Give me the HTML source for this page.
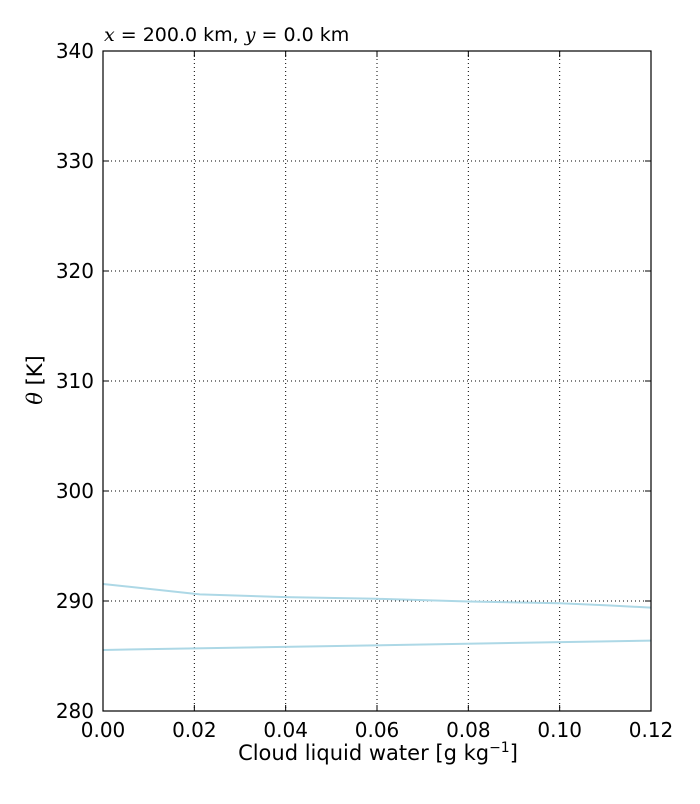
<!DOCTYPE html>
<html><head><meta charset="utf-8"><style>
body{margin:0;background:#fff;font-family:"DejaVu Sans","Liberation Sans",sans-serif;}
</style></head><body>
<svg id="chart" width="700" height="800" xmlns="http://www.w3.org/2000/svg" style="font-family:'DejaVu Sans',sans-serif"></svg>
<script>
const xTicks=[0,0.02,0.04,0.06,0.08,0.10,0.12];
const xTickLabels=["0.00","0.02","0.04","0.06","0.08","0.10","0.12"];
const yTicks=[280,290,300,310,320,330,340];
const upperX=[0,0.0212,0.04,0.06,0.08,0.10,0.1106,0.12];
const upperY=[291.55,290.6,290.35,290.2,289.95,289.8,289.6,289.4];
const lowerX=[0,0.12];
const lowerY=[285.55,286.4];
const L=103,R=651,T=51,B=711;
const sx=v=>L+(v-0)/(0.12)*(R-L);
const sy=v=>B-(v-280)/60*(B-T);
const svg=document.getElementById('chart');
const NS='http://www.w3.org/2000/svg';
function mk(tag,attrs,parent){const e=document.createElementNS(NS,tag);for(const k in attrs)e.setAttribute(k,attrs[k]);(parent||svg).appendChild(e);return e;}
xTicks.forEach((v,i)=>{
 const g=mk('line',{x1:sx(v),x2:sx(v),y1:T,y2:B,stroke:'#000','stroke-dasharray':'1,3','stroke-width':1});
 
 
 mk('line',{x1:sx(v),x2:sx(v),y1:B,y2:B-6,stroke:'#000'});
 mk('line',{x1:sx(v),x2:sx(v),y1:T,y2:T+6,stroke:'#000'});
 const t=mk('text',{x:sx(v),y:B+26,'text-anchor':'middle','font-size':20});
 t.textContent=xTickLabels[i];
 
 
});
yTicks.forEach(v=>{
 const g=mk('line',{x1:L,x2:R,y1:sy(v),y2:sy(v),stroke:'#000','stroke-dasharray':'1,3','stroke-width':1});
 
 
 mk('line',{x1:L,x2:L+6,y1:sy(v),y2:sy(v),stroke:'#000'});
 mk('line',{x1:R,x2:R-6,y1:sy(v),y2:sy(v),stroke:'#000'});
 const t=mk('text',{x:L-9,y:sy(v)+7,'text-anchor':'end','font-size':20});
 t.textContent=v;
 
 
});
function line(xs,ys,name){
 const p=mk('polyline',{points:xs.map((x,i)=>sx(x)+','+sy(ys[i])).join(' '),fill:'none',stroke:'#add8e6','stroke-width':2});
 
 
}
line(upperX,upperY,'upper-profile-line');
line(lowerX,lowerY,'lower-profile-line');
const fr=mk('rect',{x:L,y:T,width:R-L,height:B-T,fill:'none',stroke:'#000','stroke-width':1.2});


</script>
<div style="position:absolute;left:104px;top:24px;font-size:19px;"><i style="font-family:'DejaVu Serif',serif">x</i> = 200.0 km, <i style="font-family:'DejaVu Serif',serif">y</i> = 0.0 km</div>
<div style="position:absolute;left:0;width:756px;text-align:center;top:740px;font-size:21px;">Cloud liquid water [g kg<sup style="font-size:14px">−1</sup>]</div>
<div style="position:absolute;left:-10px;top:368px;font-size:21px;transform:rotate(-90deg);width:90px;text-align:center;"><i style="font-family:'DejaVu Serif',serif">θ</i> [K]</div>
</body></html>
